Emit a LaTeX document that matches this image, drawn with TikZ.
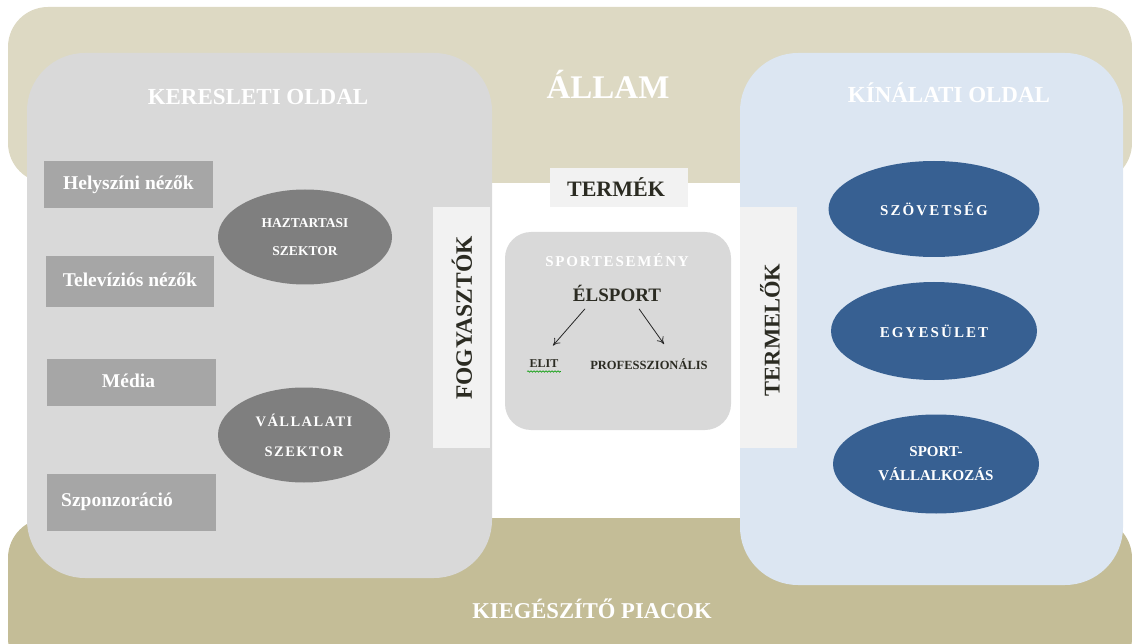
\documentclass[tikz,border=0pt]{standalone}
\usepackage{fontspec}
\setmainfont{Liberation Serif}
\usetikzlibrary{arrows.meta,shapes.geometric,decorations.pathmorphing}
\definecolor{bandtop}{HTML}{DDD9C3}
\definecolor{bandbot}{HTML}{C4BD97}
\definecolor{panelgray}{HTML}{D9D9D9}
\definecolor{panelblue}{HTML}{DCE6F2}
\definecolor{stripc}{HTML}{F2F2F2}
\definecolor{rectc}{HTML}{A6A6A6}
\definecolor{ellgray}{HTML}{7F7F7F}
\definecolor{ellblue}{HTML}{376092}
\definecolor{darktext}{HTML}{2B2B22}
\begin{document}
\begin{tikzpicture}[x=1pt,y=-1pt,
  box/.style={rectangle,draw=none,inner sep=0pt},
  band/.style={box,rounded corners=40pt},
  panel/.style={box,rounded corners=58pt},
  strip/.style={box,fill=stripc},
  srect/.style={box,fill=rectc,text=white,font=\bfseries\fontsize{19.5}{21}\selectfont},
  gell/.style={ellipse,fill=ellgray,inner sep=0pt,text=white,align=center,font=\bfseries\fontsize{13.5}{28}\selectfont},
  bell/.style={ellipse,fill=ellblue,inner sep=0pt,text=white,align=center,font=\bfseries\fontsize{15}{26}\selectfont\addfontfeature{LetterSpace=14}},
  title/.style={text=white,font=\bfseries\fontsize{23}{25}\selectfont},
  vlabel/.style={rotate=90,text=darktext,font=\bfseries\fontsize{23.5}{26}\selectfont},
  arr/.style={-{To[length=7pt,width=8pt]},line width=0.8pt,black!85}
]
\useasboundingbox (0,0) rectangle (1132,644);
\begin{scope}
\clip (0,0) rectangle (1132,644);
\node[band,fill=bandtop,minimum width=1124pt,minimum height=176pt] (allamband) at (570,95) {};
\node[band,fill=bandbot,minimum width=1124pt,minimum height=160pt] (kiegband) at (570,598) {};
\end{scope}
\node[text=white,font=\bfseries\fontsize{33}{35}\selectfont] (allam) at (608,84) {ÁLLAM};
\node[title,font=\bfseries\fontsize{22.6}{24}\selectfont] (kieg) at (592,609) {KIEGÉSZÍTŐ PIACOK};

\node[panel,fill=panelgray,minimum width=465pt,minimum height=525pt] (left) at (259.5,315.5) {};
\node[panel,fill=panelblue,minimum width=383pt,minimum height=532pt] (right) at (931.5,319) {};

\node[title] (kereslet) at (258,97) {KERESLETI OLDAL};
\node[title] (kinalat) at (949,93) {KÍNÁLATI OLDAL};

\node[box,fill=stripc,minimum width=138pt,minimum height=39pt,text=darktext,font=\bfseries\fontsize{22}{24}\selectfont] (termek) at (619,187.5) {\hspace*{-6pt}TERMÉK};

\node[box,fill=panelgray,rounded corners=26pt,minimum width=226pt,minimum height=198pt] (center) at (618,331) {};
\node[text=white,font=\bfseries\fontsize{15}{17}\selectfont\addfontfeature{LetterSpace=12}] (sportesemeny) at (617,260) {SPORTESEMÉNY};
\node[text=darktext,font=\bfseries\fontsize{19}{21}\selectfont] (elsport) at (617,293) {ÉLSPORT};
\node[text=darktext,font=\bfseries\fontsize{12}{14}\selectfont] (elit) at (544,364) {ELIT};
\node[text=darktext,font=\bfseries\fontsize{12.5}{14}\selectfont] (prof) at (649,364) {PROFESSZIONÁLIS};
\draw[arr] (elsport.south) ++(-32,4) -- ([xshift=9pt,yshift=11pt]elit.north);
\draw[arr] (elsport.south) ++(22,4) -- ([xshift=15pt,yshift=11pt]prof.north);
\draw[green!60!black,line width=0.6pt,decorate,decoration={snake,amplitude=0.7pt,segment length=3pt}] ([xshift=1pt]elit.south west) -- ([xshift=-1pt]elit.south east);

\node[strip,minimum width=57pt,minimum height=241pt] (fogystrip) at (461.5,327.5) {};
\node[vlabel] (fogy) at (462,318) {FOGYASZTÓK};
\node[strip,minimum width=57pt,minimum height=241pt] (termstrip) at (768.5,327.5) {};
\node[vlabel,font=\bfseries\fontsize{22.5}{26}\selectfont] (term) at (770,330) {TERMELŐK};

\node[srect,minimum width=169pt,minimum height=47pt] (helyszini) at (128.5,184.5) {\raisebox{3pt}{Helyszíni nézők}};
\node[srect,minimum width=168pt,minimum height=51pt] (televizios) at (130,281.5) {\raisebox{3pt}{Televíziós nézők}};
\node[srect,minimum width=169pt,minimum height=47pt] (media) at (131.5,382.5) {\hspace*{-6pt}\raisebox{3pt}{Média}};
\node[srect,minimum width=169pt,minimum height=57pt] (szponz) at (131.5,502.5) {\hspace*{-29pt}\raisebox{6pt}{Szponzoráció}};

\node[gell,minimum width=174pt,minimum height=95pt] (haztartasi) at (305,237) {HAZTARTASI\\SZEKTOR};
\node[gell,minimum width=172pt,minimum height=95pt,font=\bfseries\fontsize{14.5}{30}\selectfont\addfontfeature{LetterSpace=10}] (vallalati) at (304,435) {VÁLLALATI\\SZEKTOR};

\node[bell,minimum width=211pt,minimum height=96pt] (szovetseg) at (934,209) {SZÖVETSÉG};
\node[bell,minimum width=206pt,minimum height=98pt] (egyesulet) at (934,331) {EGYESÜLET};
\node[bell,minimum width=206pt,minimum height=99pt,align=none,font=\bfseries\fontsize{15}{24}\selectfont] (sportvall) at (936,464) {\raisebox{9pt}{\parbox{140pt}{\centering SPORT-\\VÁLLALKOZÁS}}};
\end{tikzpicture}
\end{document}
